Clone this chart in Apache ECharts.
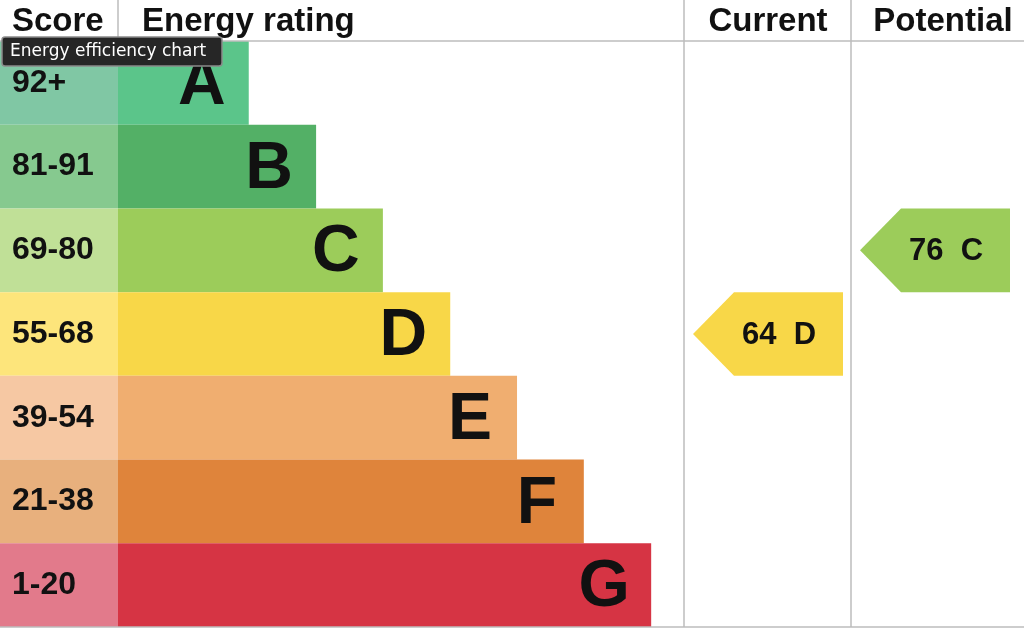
<!DOCTYPE html>
<html>
<head>
<meta charset="utf-8">
<script src="https://cdn.jsdelivr.net/npm/echarts@6/dist/echarts.min.js"></script>
<style>html,body{margin:0;padding:0;background:#fff}#c{width:1024px;height:632px}</style>
</head>
<body>
<div id="c"></div>
<script>
// ---- data ----
const bands = ['A', 'B', 'C', 'D', 'E', 'F', 'G'];
const scoreLabels = ['92+', '81-91', '69-80', '55-68', '39-54', '21-38', '1-20'];
// rating bar length as % of the "Energy rating" column width
const ratingLength = [23.1, 35.0, 46.8, 58.7, 70.5, 82.3, 94.2];
const barColors = ['#5bc58a', '#53b066', '#9ccc5a', '#f8d748', '#f0ae70', '#df843b', '#d63444'];
const scoreColors = ['#80c7a4', '#86c98f', '#c0e097', '#fde57b', '#f6c8a3', '#e8b07d', '#e27a8b'];
const currentScore = 64, currentBand = 'D';
const potentialScore = 76, potentialBand = 'C';
const headers = ['Score', 'Energy rating', 'Current', 'Potential'];

const FONT = 'Liberation Sans, Arial, Helvetica, sans-serif';
const LINE = '#bdbdbd';
const TOP = 41, H = 586;

const chart = echarts.init(document.getElementById('c'), null, {renderer: 'canvas'});

function catAxis(i) {
  return {type: 'category', gridIndex: i, data: bands, inverse: true, show: false};
}
function valAxis(i, max) {
  return {type: 'value', gridIndex: i, min: 0, max: max, show: false};
}

function arrowItem(params, api) {
  const cs = params.coordSys;
  const cy = api.coord([0, api.value(1)])[1];
  const h = api.size([0, 1])[1];
  const tip = cs.x + 9, notch = tip + 41, right = cs.x + cs.width - 8;
  const color = barColors[api.value(1)];
  return {
    type: 'group',
    children: [
      {type: 'polygon', shape: {points: [[tip, cy], [notch, cy - h / 2], [right, cy - h / 2], [right, cy + h / 2], [notch, cy + h / 2]]},
       style: {fill: color}},
      {type: 'text', x: (tip + right) / 2 + 11, y: cy + 1,
       style: {text: api.value(0) + '  ' + bands[api.value(1)], fill: '#111', font: 'bold 31px ' + FONT, align: 'center', verticalAlign: 'middle'}}
    ]
  };
}

const option = {
  animation: false,
  grid: [
    {left: 0, top: TOP, width: 118, height: H},
    {left: 118, top: TOP, width: 566, height: H},
    {left: 684, top: TOP, width: 167, height: H},
    {left: 851, top: TOP, width: 167, height: H}
  ],
  xAxis: [valAxis(0, 1), valAxis(1, 100), valAxis(2, 100), valAxis(3, 100)],
  yAxis: [catAxis(0), catAxis(1), catAxis(2), catAxis(3)],
  series: [
    {
      type: 'bar', xAxisIndex: 0, yAxisIndex: 0, barWidth: '100%',
      data: scoreLabels.map((s, i) => ({value: 1, itemStyle: {color: scoreColors[i]}})),
      label: {show: true, position: 'insideLeft', distance: 12, formatter: p => scoreLabels[p.dataIndex],
              color: '#111', fontSize: 32, fontWeight: 'bold', fontFamily: FONT}
    },
    {
      type: 'bar', xAxisIndex: 1, yAxisIndex: 1, barWidth: '100%',
      data: ratingLength.map((v, i) => ({value: v, itemStyle: {color: barColors[i]}})),
      label: {show: true, position: ['100%', '50%'], offset: [-47, 3], align: 'center', verticalAlign: 'middle',
              formatter: p => bands[p.dataIndex],
              color: '#111', fontSize: 66, fontWeight: 'bold', fontFamily: FONT}
    },
    {
      type: 'custom', xAxisIndex: 2, yAxisIndex: 2,
      data: [[currentScore, bands.indexOf(currentBand)]],
      encode: {x: 0, y: 1},
      renderItem: arrowItem
    },
    {
      type: 'custom', xAxisIndex: 3, yAxisIndex: 3,
      data: [[potentialScore, bands.indexOf(potentialBand)]],
      encode: {x: 0, y: 1},
      renderItem: arrowItem
    }
  ],
  graphic: [
    {type: 'line', shape: {x1: 0, y1: TOP, x2: 1024, y2: TOP}, style: {stroke: LINE, lineWidth: 1.5}, z: 10},
    {type: 'line', shape: {x1: 0, y1: TOP + H, x2: 1024, y2: TOP + H}, style: {stroke: LINE, lineWidth: 1.5}, z: 10},
    {type: 'line', shape: {x1: 118, y1: 0, x2: 118, y2: TOP}, style: {stroke: LINE, lineWidth: 1.5}, z: 10},
    {type: 'line', shape: {x1: 684, y1: 0, x2: 684, y2: TOP + H}, style: {stroke: LINE, lineWidth: 1.5}, z: 10},
    {type: 'line', shape: {x1: 851, y1: 0, x2: 851, y2: TOP + H}, style: {stroke: LINE, lineWidth: 1.5}, z: 10},
    {type: 'text', x: 12, y: 22, style: {text: headers[0], font: 'bold 33px ' + FONT, fill: '#111', verticalAlign: 'middle'}},
    {type: 'text', x: 142, y: 22, style: {text: headers[1], font: 'bold 33px ' + FONT, fill: '#111', verticalAlign: 'middle'}},
    {type: 'text', x: 768, y: 22, style: {text: headers[2], font: 'bold 33px ' + FONT, fill: '#111', align: 'center', verticalAlign: 'middle'}},
    {type: 'text', x: 943, y: 22, style: {text: headers[3], font: 'bold 33px ' + FONT, fill: '#111', align: 'center', verticalAlign: 'middle'}},
    {type: 'rect', shape: {x: 2, y: 37, width: 220, height: 29, r: 3}, style: {fill: '#262626', stroke: '#8a8a8a', lineWidth: 1.5}, z: 50},
    {type: 'text', x: 10, y: 51.5, z: 51, style: {text: 'Energy efficiency chart', font: '17px DejaVu Sans, sans-serif', fill: '#ffffff', verticalAlign: 'middle'}}
  ]
};
chart.setOption(option);
</script>
</body>
</html>
